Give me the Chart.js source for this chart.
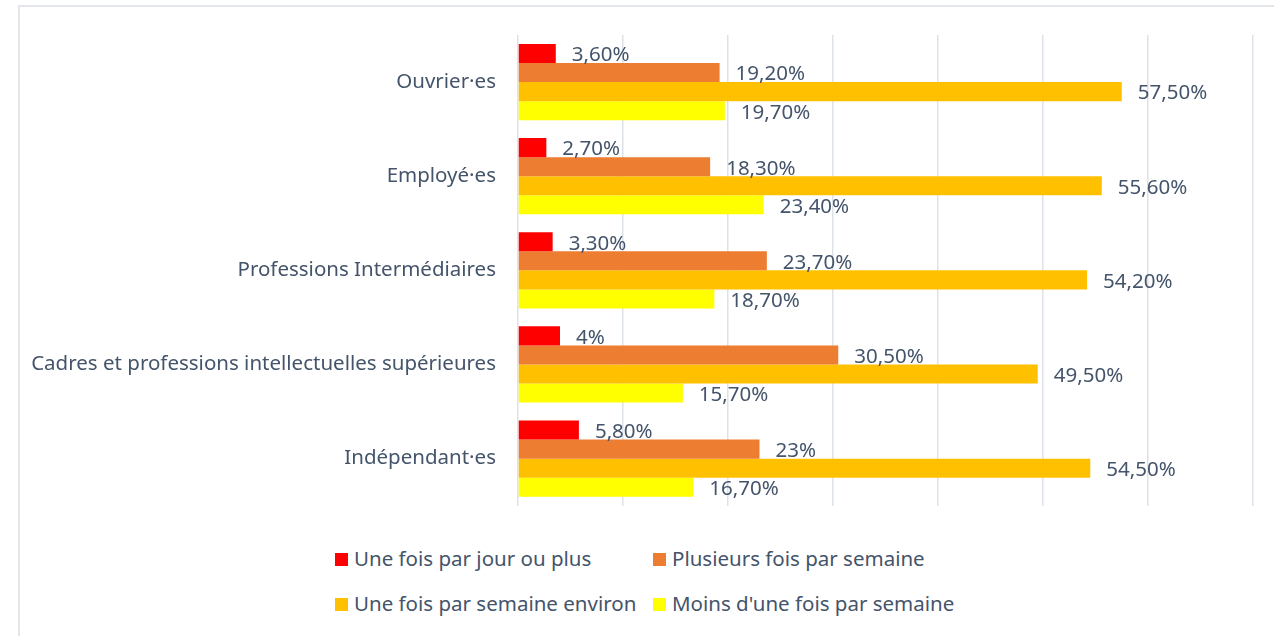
<!DOCTYPE html>
<html>
<head>
<meta charset="utf-8">
<script src="https://cdn.jsdelivr.net/npm/chart.js@4"></script>
<style>
body { margin:0; background:#fff; font-family:"Noto Sans", sans-serif; }
#frame { position:absolute; left:18px; top:5px; width:1260px; height:640px; border:2px solid #E3E6EA; box-sizing:border-box; }
#wrap { position:absolute; left:0; top:0; width:1274px; height:540px; }
#legend { position:absolute; left:0; top:540px; width:1274px; }
.item { position:absolute; font-size:20.5px; color:#44546A; white-space:nowrap; line-height:26px; }
.item span.box { display:inline-block; width:13px; height:13px; margin-right:6px; vertical-align:0px; }
</style>
</head>
<body>
<div id="frame"></div>
<div id="wrap"><canvas id="chart" width="1274" height="540"></canvas></div>
<div id="legend"></div>
<script>
var categories = ['Ouvrier·es','Employé·es','Professions Intermédiaires','Cadres et professions intellectuelles supérieures','Indépendant·es']
var seriesNames = ['Une fois par jour ou plus','Plusieurs fois par semaine','Une fois par semaine environ',"Moins d'une fois par semaine"]
var colors = ['#FF0000','#ED7D31','#FFC000','#FFFF00']
var parJour = [3.6,2.7,3.3,4,5.8]
var plusieurs = [19.2,18.3,23.7,30.5,23]
var semaine = [57.5,55.6,54.2,49.5,54.5]
var moins = [19.7,23.4,18.7,15.7,16.7]
var labelsText = [
['3,60%','2,70%','3,30%','4%','5,80%'],
['19,20%','18,30%','23,70%','30,50%','23%'],
['57,50%','55,60%','54,20%','49,50%','54,50%'],
['19,70%','23,40%','18,70%','15,70%','16,70%']
]
var values = [parJour, plusieurs, semaine, moins]

var textColor = '#44546A'
var fontFam = '"Noto Sans", sans-serif'

var valueLabels = {
  id:'valueLabels',
  afterDatasetsDraw: function(chart){
    var ctx = chart.ctx
    ctx.save()
    ctx.font = '20.5px ' + fontFam
    ctx.fillStyle = textColor
    ctx.textAlign = 'left'
    ctx.textBaseline = 'middle'
    chart.data.datasets.forEach(function(ds, i){
      chart.getDatasetMeta(i).data.forEach(function(bar, j){
        ctx.fillText(labelsText[i][j], bar.x + 16, bar.y + 2)
      })
    })
    ctx.restore()
  }
}

var data = {
  labels: categories,
  datasets: values.map(function(v, i){
    return { label: seriesNames[i], data: v, backgroundColor: colors[i], borderWidth:0 }
  })
}

var chart = new Chart(document.getElementById('chart'), {
  type:'bar',
  data:data,
  plugins:[valueLabels],
  options:{
    indexAxis:'y',
    responsive:false,
    animation:false,
    layout:{ padding:{ top:35, right:21, left:0, bottom:12 } },
    datasets:{ bar:{ categoryPercentage:0.81, barPercentage:1 } },
    plugins:{ legend:{ display:false }, tooltip:{ enabled:false } },
    scales:{
      x:{
        display:true,
        min:0, max:70,
        ticks:{ display:false, stepSize:10 },
        grid:{ color:'#DDE1E8', lineWidth:1.5, drawTicks:false },
        border:{ display:false }
      },
      y:{
        grid:{ display:false, drawTicks:false },
        border:{ display:false },
        ticks:{ color:textColor, font:{ size:20.5, family:fontFam }, padding:22 },
        afterFit: function(axis){ axis.width = 518 }
      }
    }
  }
})

var pos = [[335,5],[653,5],[335,50],[653,50]]
var leg = document.getElementById('legend')
chart.data.datasets.forEach(function(ds, i){
  var d = document.createElement('div')
  d.className = 'item'
  d.style.left = pos[i][0] + 'px'
  d.style.top = pos[i][1] + 'px'
  d.innerHTML = '<span class="box" style="background:' + ds.backgroundColor + '"></span>' + ds.label
  leg.appendChild(d)
})
</script>
</body>
</html>
